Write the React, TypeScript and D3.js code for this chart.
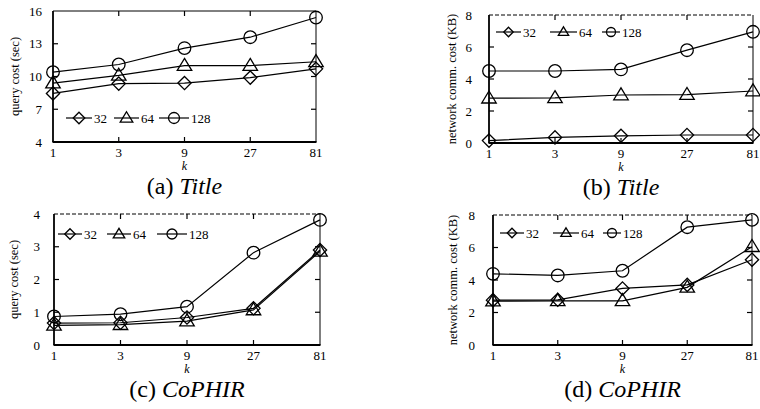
import React from "react";
import * as d3 from "d3";

// x categories (k) and the three series (legend names)
const kLabels = ["1", "3", "9", "27", "81"];
const seriesNames = ["32", "64", "128"];

// (a) Title - query cost (sec)
const titleQuery32 = [8.45, 9.35, 9.4, 9.9, 10.7];
const titleQuery64 = [9.4, 10.1, 11.0, 11.0, 11.35];
const titleQuery128 = [10.4, 11.1, 12.6, 13.6, 15.4];

// (b) Title - network comm. cost (KB)
const titleNet32 = [0.15, 0.35, 0.45, 0.5, 0.5];
const titleNet64 = [2.8, 2.82, 3.0, 3.02, 3.25];
const titleNet128 = [4.5, 4.5, 4.6, 5.8, 6.95];

// (c) CoPHIR - query cost (sec)
const cophirQuery32 = [0.67, 0.68, 0.84, 1.12, 2.9];
const cophirQuery64 = [0.6, 0.62, 0.73, 1.07, 2.86];
const cophirQuery128 = [0.87, 0.94, 1.17, 2.82, 3.82];

// (d) CoPHIR - network comm. cost (KB)
const cophirNet32 = [2.76, 2.78, 3.48, 3.7, 5.25];
const cophirNet64 = [2.7, 2.72, 2.72, 3.55, 6.05];
const cophirNet128 = [4.38, 4.28, 4.57, 7.25, 7.7];

const yTicksQueryA = [4, 7, 10, 13, 16];
const yTicksNet = [0, 2, 4, 6, 8];
const yTicksQueryC = [0, 1, 2, 3, 4];

const FONT = "Liberation Serif";

type Panel = {
  frame: { x0: number; x1: number; y0: number; y1: number };
  domain: [number, number];
  ticks: number[];
  series: number[][];
  ylabel: string;
  ylabelX: number;
  tickGap: number;
  tag: string;
  name: string;
  dashedTop: boolean;
  legend: { y: number; items: { x: number; len: number }[]; r: number };
};

const panels: Panel[] = [
  {
    frame: { x0: 53, x1: 316, y0: 11, y1: 142 },
    domain: [4, 16],
    ticks: yTicksQueryA,
    series: [titleQuery32, titleQuery64, titleQuery128],
    ylabel: "query cost (sec)",
    ylabelX: 15,
    tickGap: 11,
    tag: "(a) ",
    name: "Title",
    dashedTop: false,
    legend: { y: 118, r: 5.5, items: [{ x: 66, len: 26 }, { x: 114, len: 25 }, { x: 159, len: 30 }] },
  },
  {
    frame: { x0: 489, x1: 753, y0: 15, y1: 143 },
    domain: [0, 8],
    ticks: yTicksNet,
    series: [titleNet32, titleNet64, titleNet128],
    ylabel: "network comm. cost (KB)",
    ylabelX: 452,
    tickGap: 17,
    tag: "(b) ",
    name: "Title",
    dashedTop: true,
    legend: { y: 32, r: 4.5, items: [{ x: 496, len: 25 }, { x: 550, len: 27 }, { x: 602, len: 18 }] },
  },
  {
    frame: { x0: 54, x1: 320, y0: 214, y1: 345 },
    domain: [0, 4],
    ticks: yTicksQueryC,
    series: [cophirQuery32, cophirQuery64, cophirQuery128],
    ylabel: "query cost (sec)",
    ylabelX: 14,
    tickGap: 14,
    tag: "(c) ",
    name: "CoPHIR",
    dashedTop: true,
    legend: { y: 234, r: 5, items: [{ x: 58, len: 24 }, { x: 107, len: 24 }, { x: 157, len: 30 }] },
  },
  {
    frame: { x0: 493, x1: 752, y0: 215, y1: 345 },
    domain: [0, 8],
    ticks: yTicksNet,
    series: [cophirNet32, cophirNet64, cophirNet128],
    ylabel: "network comm. cost (KB)",
    ylabelX: 453,
    tickGap: 18,
    tag: "(d) ",
    name: "CoPHIR",
    dashedTop: true,
    legend: { y: 233, r: 4.5, items: [{ x: 500, len: 24 }, { x: 553, len: 26 }, { x: 603, len: 18 }] },
  },
];

const Marker = ({ kind, x, y, r }: { kind: number; x: number; y: number; r: number }) => {
  const common = { fill: "none", stroke: "#000", strokeWidth: 1.3 };
  if (kind === 0) {
    const d = r * 1.05;
    return <path d={`M${x},${y - d}L${x + d},${y}L${x},${y + d}L${x - d},${y}Z`} {...common} />;
  }
  if (kind === 1) {
    const h = r * 1.9;
    const w = r * 1.15;
    return <path d={`M${x},${y - h * 0.6}L${x + w},${y + h * 0.4}L${x - w},${y + h * 0.4}Z`} {...common} />;
  }
  return <circle cx={x} cy={y} r={r} {...common} />;
};

const PanelChart = ({ p }: { p: Panel }) => {
  const { x0, x1, y0, y1 } = p.frame;
  const x = d3.scalePoint<string>().domain(kLabels).range([x0, x1]);
  const y = d3.scaleLinear().domain(p.domain).range([y1, y0]);
  const line = d3
    .line<number>()
    .x((_, i) => x(kLabels[i]) as number)
    .y((v) => y(v));
  const tl = 5;
  const cx = (x0 + x1) / 2;
  return (
    <g>
      {/* frame */}
      <line x1={x0} y1={y0} x2={x1} y2={y0} stroke="#000" strokeWidth={1} strokeDasharray={p.dashedTop ? "4,2" : undefined} />
      <line x1={x1} y1={y0} x2={x1} y2={y1} stroke="#000" strokeWidth={1} />
      <line x1={x0} y1={y0} x2={x0} y2={y1} stroke="#000" strokeWidth={1.8} />
      <line x1={x0 - 0.5} y1={y1} x2={x1 + 0.5} y2={y1} stroke="#000" strokeWidth={1.8} />
      {/* y ticks */}
      {p.ticks.map((t) => (
        <g key={"y" + t}>
          {t !== p.domain[0] && t !== p.domain[1] && (
            <>
              <line x1={x0} x2={x0 + tl} y1={y(t)} y2={y(t)} stroke="#000" strokeWidth={1.2} />
              <line x1={x1} x2={x1 - tl} y1={y(t)} y2={y(t)} stroke="#000" strokeWidth={1.2} />
            </>
          )}
          <text x={x0 - p.tickGap} y={y(t) + 4.5} textAnchor="end" fontSize={13} fontFamily={FONT}>
            {t}
          </text>
        </g>
      ))}
      {/* x ticks */}
      {kLabels.map((k, i) => (
        <g key={"x" + k}>
          {i > 0 && i < kLabels.length - 1 && (
            <>
              <line x1={x(k)} x2={x(k)} y1={y1} y2={y1 - tl} stroke="#000" strokeWidth={1.2} />
              <line x1={x(k)} x2={x(k)} y1={y0} y2={y0 + tl} stroke="#000" strokeWidth={1.2} />
            </>
          )}
          <text x={x(k)} y={y1 + 15} textAnchor="middle" fontSize={13} fontFamily={FONT}>
            {k}
          </text>
        </g>
      ))}
      <text x={cx} y={y1 + 28} textAnchor="middle" fontSize={12} fontStyle="italic" fontFamily={FONT}>
        k
      </text>
      <text
        transform={`translate(${p.ylabelX + 4},${(y0 + y1) / 2}) rotate(-90)`}
        textAnchor="middle"
        fontSize={12.5}
        fontFamily={FONT}
      >
        {p.ylabel}
      </text>
      {/* series */}
      {p.series.map((s, si) => (
        <g key={"s" + si}>
          <path d={line(s) || ""} fill="none" stroke="#000" strokeWidth={1.2} />
          {s.map((v, i) => (
            <Marker key={i} kind={si} x={x(kLabels[i]) as number} y={y(v)} r={6.3} />
          ))}
        </g>
      ))}
      {/* legend */}
      {p.legend.items.map((it, si) => (
        <g key={"l" + si}>
          <line x1={it.x} x2={it.x + it.len} y1={p.legend.y} y2={p.legend.y} stroke="#000" strokeWidth={1.2} />
          <Marker kind={si} x={it.x + it.len / 2} y={p.legend.y} r={p.legend.r} />
          <text x={it.x + it.len + 2} y={p.legend.y + 4.5} fontSize={13} fontFamily={FONT}>
            {seriesNames[si]}
          </text>
        </g>
      ))}
      {/* caption */}
      <text x={cx} y={y1 + 52} textAnchor="middle" fontSize={24} fontFamily={FONT}>
        {p.tag}
        <tspan fontStyle="italic">{p.name}</tspan>
      </text>
    </g>
  );
};

export default function App() {
  return (
    <svg width={760} height={409} style={{ position: "absolute", left: 0, top: 0, background: "#fff" }}>
      <rect width={760} height={409} fill="#fff" />
      {panels.map((p, i) => (
        <PanelChart key={i} p={p} />
      ))}
    </svg>
  );
}
